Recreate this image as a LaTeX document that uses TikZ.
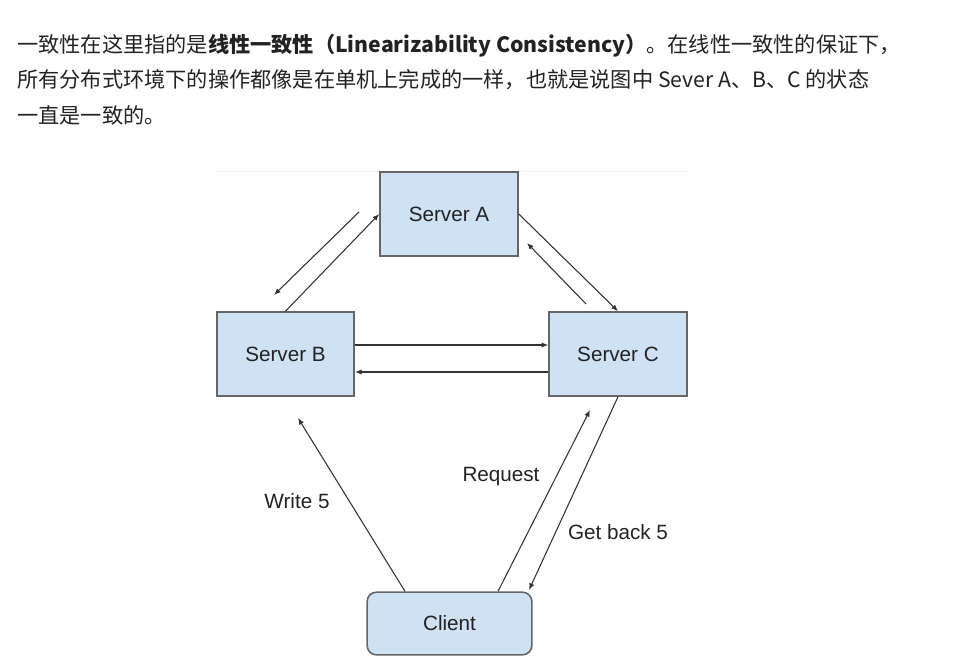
\documentclass[tikz,border=0pt]{standalone}
\usepackage{fontspec}
\setmainfont{Noto Sans CJK SC}
\newfontfamily\arialf{Liberation Sans}
\usetikzlibrary{arrows.meta,calc}
\definecolor{boxfill}{HTML}{CFE2F3}
\definecolor{boxline}{HTML}{666666}
\definecolor{arrowc}{HTML}{333333}
\definecolor{txt}{HTML}{222222}
\tikzset{
  srv/.style={draw=boxline, fill=boxfill, line width=1.2pt, inner sep=0pt,
    font=\arialf\fontsize{15.5pt}{18pt}\selectfont, text=txt},
  conn/.style={draw=arrowc, line width=0.8pt, -{Latex[length=5pt,width=4pt]}},
  lbl/.style={font=\arialf\fontsize{15.5pt}{18pt}\selectfont, text=txt, inner sep=0pt},
  para/.style={anchor=base west, inner sep=0pt, text=txt, font=\fontsize{15.9pt}{18pt}\selectfont}
}
\begin{document}
\begin{tikzpicture}[x=0.75pt,y=-0.75pt]
\useasboundingbox (0,0) rectangle (977,670);
% paragraph
\node[para] (l1) at (17,52.5) {一致性在这里指的是\textbf{线性一致性（Linearizability Consistency）}。在线性一致性的保证下，};
\node[para] (l2) at (17,88) {所有分布式环境下的操作都像是在单机上完成的一样，也就是说图中 Sever A、B、C 的状态};
\node[para] (l3) at (17,123.5) {一直是一致的。};
% faint frame line
\draw[draw=black!5, line width=0.5pt] (217,171) -- (688,171);
% servers
\node[srv, minimum width=103.5pt, minimum height=63pt] (A) at (449,214) {Server A};
\node[srv, minimum width=103pt, minimum height=63pt] (B) at (285.5,354) {Server B};
\node[srv, minimum width=103.5pt, minimum height=63pt] (C) at (618,354) {Server C};
\node[srv, rounded corners=7pt, minimum width=123.5pt, minimum height=47pt] (Cl) at (449.5,623.5) {Client};
% free ends
\coordinate (ab1) at (359,212);
\coordinate (ab2) at (274,295);
\coordinate (ca1) at (586,304);
\coordinate (ca2) at (527,243);
\coordinate (w5) at (298,418);
\coordinate (rq) at (590,410);
\coordinate (gb) at (529,590);
% connectors
\draw[conn] (B.north) -- (A.west);
\draw[conn] (ab1) -- (ab2);
\draw[conn] (A.east) -- (C.north);
\draw[conn] (ca1) -- (ca2);
\draw[conn] ($(B.east)+(0,-9)$) -- ($(C.west)+(0,-9)$);
\draw[conn] ($(C.west)+(0,18)$) -- ($(B.east)+(0,18)$);
\draw[conn] ($(Cl.north)+(-44.5,0)$) -- (w5);
\draw[conn] ($(Cl.north)+(48.5,0)$) -- (rq);
\draw[conn] (C.south) -- (gb);
% labels
\node[lbl] (lw) at (297,501) {Write 5};
\node[lbl] (lr) at (501,477) {Request};
\node[lbl] (lg) at (618,532) {Get back 5};
\end{tikzpicture}
\end{document}
